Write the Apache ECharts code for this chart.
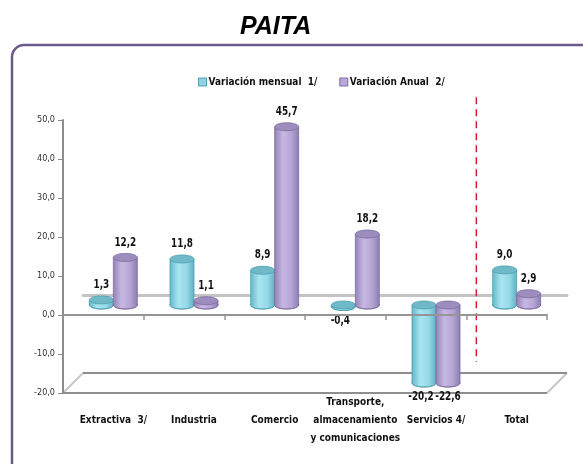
<!DOCTYPE html>
<html><head><meta charset="utf-8">
<script src="https://cdn.jsdelivr.net/npm/echarts@6/dist/echarts.min.js"></script>
<style>html,body{margin:0;padding:0;background:#fff}#c{width:583px;height:464px}</style>
</head><body><div id="c"></div>
<script>
// ---- data ----
const titleText = 'PAITA';
const categories = ['Extractiva  3/', 'Industria', 'Comercio', 'Transporte,\nalmacenamiento\ny comunicaciones', 'Servicios 4/', 'Total'];
const seriesNames = ['Variación mensual  1/', 'Variación Anual  2/'];
const mensual = [1.3, 11.8, 8.9, -0.4, -20.2, 9.0];
const anual = [12.2, 1.1, 45.7, 18.2, -22.6, 2.9];
const yMin = -20, yMax = 50, yInterval = 10;
const dividerAfterIndex = 4;          // red dashed divider between Servicios and Total
const dividerRange = [53.3, -14.6];   // value extent of divider

// ---- styling ----
const FONT = "'Liberation Sans Narrow','DejaVu Sans Condensed','Roboto Condensed','Liberation Sans',Arial,sans-serif";
const fmt = v => v.toFixed(1).replace('.', ',');
const BAR_W = 24, RY = 4;
const palettes = [
  { legend: '#8fd4e4', stroke: '#4f9fb0', cap: '#6fb9c9',
    body: [[0, '#64b9ca'], [0.35, '#a9e5f1'], [0.7, '#95d9e8'], [1, '#5fb2c3']] },
  { legend: '#b9a9d8', stroke: '#7c6c9e', cap: '#9d8dbf',
    body: [[0, '#9483b8'], [0.35, '#c6b8e2'], [0.7, '#b4a4d4'], [1, '#8e7db2']] }
];
const grids = [
  { left: 63, right: 36, top: 120, bottom: 71, containLabel: false, outerBoundsMode: 'none' },   // front plane
  { left: 73, right: 26, top: 110, bottom: 81, containLabel: false, outerBoundsMode: 'none' },   // mid-depth plane (bars)
  { left: 83, right: 16, top: 100, bottom: 91, containLabel: false, outerBoundsMode: 'none' }    // back plane
];

const chart = echarts.init(document.getElementById('c'));

function grad(stops) {
  return new echarts.graphic.LinearGradient(0, 0, 1, 0, stops.map(s => ({ offset: s[0], color: s[1] })));
}

function cylinderSeries(name, values, side, pal) {
  return {
    type: 'custom', name: name, xAxisIndex: 1, yAxisIndex: 1, z: 3,
    itemStyle: { color: pal.legend, borderColor: pal.stroke },
    data: values.map((v, i) => [i, v]),
    encode: { x: 0, y: 1 },
    renderItem: function (params, api) {
      const i = api.value(0), v = api.value(1);
      const vc = Math.max(yMin, Math.min(yMax, v));   // clipped to the axis range
      const pv = api.coord([i, vc]);
      const p0 = api.coord([i, 0]);
      const cx = pv[0] + side * BAR_W / 2;
      const yTop = Math.min(pv[1], p0[1]);
      const yBot = Math.max(pv[1], p0[1]);
      const x0 = cx - BAR_W / 2, x1 = cx + BAR_W / 2;
      const labelY = v >= 0 ? yTop - 15 : yBot + 14;
      const labelX = v < 0 && side < 0 ? cx - 3 : cx;
      return {
        type: 'group',
        children: [
          { type: 'ellipse', shape: { cx: cx, cy: yBot, rx: BAR_W / 2, ry: RY },
            style: { fill: grad(pal.body), stroke: pal.stroke, lineWidth: 0.8 } },
          { type: 'rect', shape: { x: x0, y: yTop, width: BAR_W, height: yBot - yTop },
            style: { fill: grad(pal.body) } },
          { type: 'line', shape: { x1: x0, y1: yTop, x2: x0, y2: yBot },
            style: { stroke: pal.stroke, lineWidth: 0.8 } },
          { type: 'line', shape: { x1: x1, y1: yTop, x2: x1, y2: yBot },
            style: { stroke: pal.stroke, lineWidth: 0.8 } },
          { type: 'ellipse', shape: { cx: cx, cy: yTop, rx: BAR_W / 2, ry: RY },
            style: { fill: pal.cap, stroke: pal.stroke, lineWidth: 0.8 } },
          { type: 'text', x: labelX, y: labelY, scaleX: 0.82,
            style: { text: fmt(v), align: 'center', verticalAlign: 'middle',
              fill: '#111', font: "bold 12px " + FONT } }
        ]
      };
    }
  };
}

const option = {
  animation: false,
  backgroundColor: '#fff',
  title: {
    text: titleText, left: 235, top: 10,
    textStyle: { fontFamily: "'Liberation Sans',Arial,sans-serif", fontSize: 25, fontWeight: 'bold', fontStyle: 'italic', color: '#000' }
  },
  legend: {
    left: 193, top: 72, itemWidth: 8, itemHeight: 8, itemGap: 22, icon: 'rect',
    textStyle: { fontFamily: FONT, fontSize: 10, fontWeight: 'bold', color: '#111', padding: [0, 0, 0, -3] },
    data: [
      { name: seriesNames[0], itemStyle: { color: palettes[0].legend, borderColor: palettes[0].stroke, borderWidth: 1 } },
      { name: seriesNames[1], itemStyle: { color: palettes[1].legend, borderColor: palettes[1].stroke, borderWidth: 1 } }
    ]
  },
  grid: grids,
  xAxis: [
    { // front zero line with ticks
      type: 'category', gridIndex: 0, data: categories, z: 10,
      axisLine: { onZero: true, lineStyle: { color: '#959595', width: 2 } },
      axisTick: { show: true, interval: 0, length: 5, lineStyle: { color: '#959595', width: 1.5 } },
      axisLabel: { show: false, interval: 0 }
    },
    { // mid plane: category labels
      type: 'category', gridIndex: 1, data: categories, position: 'bottom',
      axisLine: { show: false, onZero: false }, axisTick: { show: false },
      axisLabel: { show: true, margin: 37, verticalAlign: 'middle', lineHeight: 18, interval: 0,
        fontFamily: FONT, fontSize: 10, fontWeight: 'bold', color: '#111' }
    },
    { // back zero line
      type: 'category', gridIndex: 2, data: categories, z: 0,
      axisLine: { onZero: true, lineStyle: { color: '#c4c4c4', width: 3 } },
      axisTick: { show: false }, axisLabel: { show: false }
    }
  ],
  yAxis: [
    { type: 'value', gridIndex: 0, min: yMin, max: yMax, interval: yInterval,
      splitLine: { show: false },
      axisLine: { show: true, lineStyle: { color: '#8c8c8c', width: 2 } },
      axisTick: { show: true, length: 5, lineStyle: { color: '#8c8c8c' } },
      axisLabel: { margin: 8, formatter: fmt, fontFamily: FONT, fontSize: 9, color: '#333' } },
    { type: 'value', gridIndex: 1, min: yMin, max: yMax, interval: yInterval, show: false, splitLine: { show: false } },
    { type: 'value', gridIndex: 2, min: yMin, max: yMax, interval: yInterval, show: false, splitLine: { show: false } }
  ],
  series: [
    cylinderSeries(seriesNames[0], mensual, -1, palettes[0]),
    cylinderSeries(seriesNames[1], anual, 1, palettes[1])
  ]
};
chart.setOption(option);

// decorative frame, 3D floor and divider derived from the axes
const W = chart.getWidth();
const gx = g => [g.left, W - g.right];
const yAt = (k, v) => chart.convertToPixel({ yAxisIndex: k }, v);
const f = gx(grids[0]), b = gx(grids[2]);
const yf = yAt(0, yMin), yb = yAt(2, yMin);
const xc4 = chart.convertToPixel({ xAxisIndex: 1 }, dividerAfterIndex);
const xc5 = chart.convertToPixel({ xAxisIndex: 1 }, dividerAfterIndex + 1);
const xd = (xc4 + xc5) / 2;

chart.setOption({
  graphic: [
    { type: 'rect', shape: { x: 12, y: 45, width: 582, height: 440, r: 12 }, z: -10,
      style: { fill: 'none', stroke: '#6a5a8c', lineWidth: 2.5 } },
    { type: 'line', shape: { x1: f[0], y1: yf, x2: b[0], y2: yb }, style: { stroke: '#c6c6c6', lineWidth: 2 }, z: -5 },
    { type: 'line', shape: { x1: f[1], y1: yf, x2: b[1], y2: yb }, style: { stroke: '#c6c6c6', lineWidth: 2 }, z: -5 },
    { type: 'line', shape: { x1: b[0], y1: yb, x2: b[1], y2: yb }, style: { stroke: '#8e8e8e', lineWidth: 2 }, z: -5 },
    { type: 'line', shape: { x1: f[0], y1: yf, x2: f[1], y2: yf }, style: { stroke: '#8e8e8e', lineWidth: 2 }, z: -5 },
    { type: 'line', shape: { x1: xd, y1: yAt(1, dividerRange[0]), x2: xd, y2: yAt(1, dividerRange[1]) },
      style: { stroke: '#d0202a', lineWidth: 1.5, lineDash: [7, 5] }, z: 5 }
  ]
});
</script></body></html>
